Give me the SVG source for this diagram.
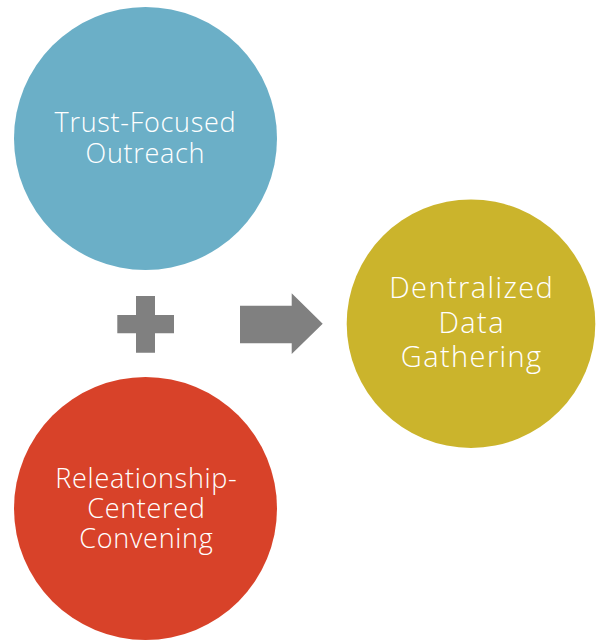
<svg xmlns="http://www.w3.org/2000/svg" width="597" height="641" viewBox="0 0 597 641">
  <style>
    .lbl { font-family: "Open Sans", "Noto Sans", "DejaVu Sans", sans-serif; font-weight: 300; fill: #ffffff; text-anchor: middle; }
    .sm { font-size: 27px; letter-spacing: 0.7px; }
    .lg { font-size: 29px; letter-spacing: 1.4px; }
    .sym { fill: #808080; }
  </style>
  <rect width="597" height="641" fill="#ffffff"/>

  <g id="trust-focused-outreach">
    <circle cx="145.5" cy="138.5" r="131.5" fill="#6BAFC7"/>
    <text class="lbl sm" x="145.4" y="131.5">Trust-Focused</text>
    <text class="lbl sm" x="145.4" y="162.5">Outreach</text>
  </g>

  <g id="relationship-centered-convening">
    <circle cx="145.5" cy="508.5" r="131.5" fill="#D84229"/>
    <text class="lbl sm" x="146.4" y="487.5">Releationship-</text>
    <text class="lbl sm" x="146.4" y="517.5">Centered</text>
    <text class="lbl sm" x="146.4" y="547.5">Convening</text>
  </g>

  <g id="decentralized-data-gathering">
    <circle cx="471" cy="323.7" r="124.3" fill="#CBB42C"/>
    <text class="lbl lg" x="471.7" y="298.3">Dentralized</text>
    <text class="lbl lg" x="471.7" y="333.3">Data</text>
    <text class="lbl lg" x="471.7" y="366.7">Gathering</text>
  </g>

  <g id="connectors">
    <!-- plus sign joining the two inputs -->
    <path class="sym" d="M136,296 H155 V315 H174 V333.3 H155 V352.7 H136 V333.3 H117.3 V315 H136 Z"/>
    <!-- block arrow toward the result -->
    <path class="sym" d="M240,305.7 H291.7 V293.3 L322.7,323.7 L291.7,354 V343.3 H240 Z"/>
  </g>
</svg>
